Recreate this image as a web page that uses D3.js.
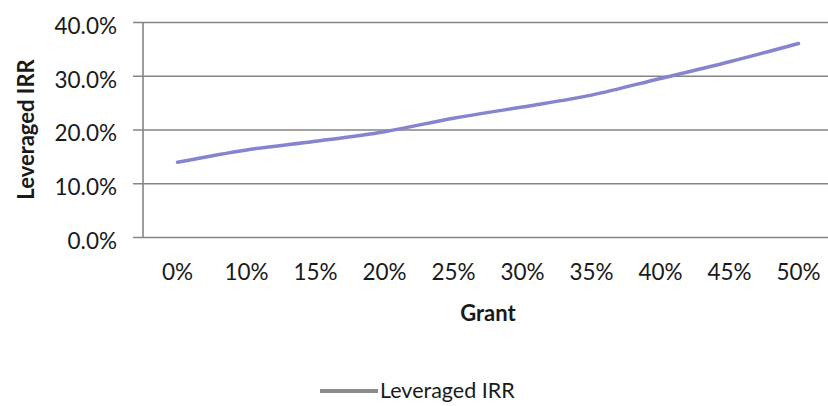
<!DOCTYPE html>
<html>
<head>
<meta charset="utf-8">
<script src="https://cdn.jsdelivr.net/npm/d3@7/dist/d3.min.js"></script>
<style>
  html, body { margin: 0; padding: 0; background: #ffffff; }
  svg { display: block; }
  text { font-family: Lato, "Open Sans", sans-serif; fill: #1a1a1a; }
</style>
</head>
<body>
<svg id="chart" width="828" height="406"></svg>
<script>
// Grant share (category axis) and resulting leveraged IRR
const grantLabels = ["0%", "10%", "15%", "20%", "25%", "30%", "35%", "40%", "45%", "50%"];
const leveragedIRR = [0.139, 0.162, 0.178, 0.196, 0.221, 0.242, 0.264, 0.295, 0.326, 0.360];
const yTicks = [0, 0.1, 0.2, 0.3, 0.4];
const seriesName = "Leveraged IRR";
const xTitle = "Grant";
const yTitle = "Leveraged IRR";

const svg = d3.select("#chart");
const plot = { left: 143, right: 833, top: 22, bottom: 237 };

const x = d3.scaleBand()
  .domain(grantLabels)
  .range([plot.left, plot.right]);

const y = d3.scaleLinear()
  .domain([0, 0.4])
  .range([plot.bottom, plot.top]);

const fmtY = d3.format(".1%");

// Horizontal gridlines with short outer ticks on the left
const yAxis = svg.append("g")
  .attr("transform", `translate(${plot.left},0)`)
  .call(d3.axisLeft(y)
    .tickValues(yTicks)
    .tickSizeInner(-(plot.right - plot.left))
    .tickSizeOuter(0)
    .tickFormat(fmtY)
    .tickPadding(0));
yAxis.select(".domain").remove();
yAxis.selectAll(".tick line")
  .attr("x1", -10)
  .attr("stroke", "#858585")
  .attr("stroke-width", 1.6);
yAxis.selectAll(".tick text")
  .attr("x", -26)
  .attr("dy", "0.5em")
  .attr("text-anchor", "end")
  .style("font-size", "22.5px")
  .style("font-family", "Lato, sans-serif");

// Vertical axis line
svg.append("line")
  .attr("x1", plot.left).attr("x2", plot.left)
  .attr("y1", plot.top).attr("y2", plot.bottom)
  .attr("stroke", "#858585").attr("stroke-width", 1.6);

// Category labels below the plot
const xAxis = svg.append("g")
  .attr("transform", `translate(0,${plot.bottom})`)
  .call(d3.axisBottom(x).tickSize(0).tickPadding(0));
xAxis.select(".domain").remove();
xAxis.selectAll(".tick text")
  .attr("y", 42.5)
  .attr("dy", 0)
  .style("font-size", "22.5px")
  .style("font-family", "Lato, sans-serif");

// IRR line
const line = d3.line()
  .x((d, i) => x(grantLabels[i]) + x.bandwidth() / 2)
  .y(d => y(d))
  .curve(d3.curveMonotoneX);

svg.append("path")
  .datum(leveragedIRR)
  .attr("d", line)
  .attr("fill", "none")
  .attr("stroke", "#8683cf")
  .attr("stroke-width", 3.5)
  .attr("stroke-linecap", "round");

// Axis titles
svg.append("text")
  .attr("x", (plot.left + plot.right) / 2)
  .attr("y", 321)
  .attr("text-anchor", "middle")
  .style("font-size", "22px")
  .style("font-weight", "bold")
  .text(xTitle);

svg.append("text")
  .attr("transform", `translate(34,${(plot.top + plot.bottom) / 2}) rotate(-90)`)
  .attr("text-anchor", "middle")
  .style("font-size", "22px")
  .style("font-weight", "bold")
  .text(yTitle);

// Legend
const legend = svg.append("g").attr("transform", "translate(320,391)");
legend.append("line")
  .attr("x1", 0).attr("x2", 58)
  .attr("y1", 0).attr("y2", 0)
  .attr("stroke", "#8c8c8c")
  .attr("stroke-width", 4);
legend.append("text")
  .attr("x", 60)
  .attr("y", 7)
  .style("font-size", "21.5px")
  .text(seriesName);
</script>
</body>
</html>
